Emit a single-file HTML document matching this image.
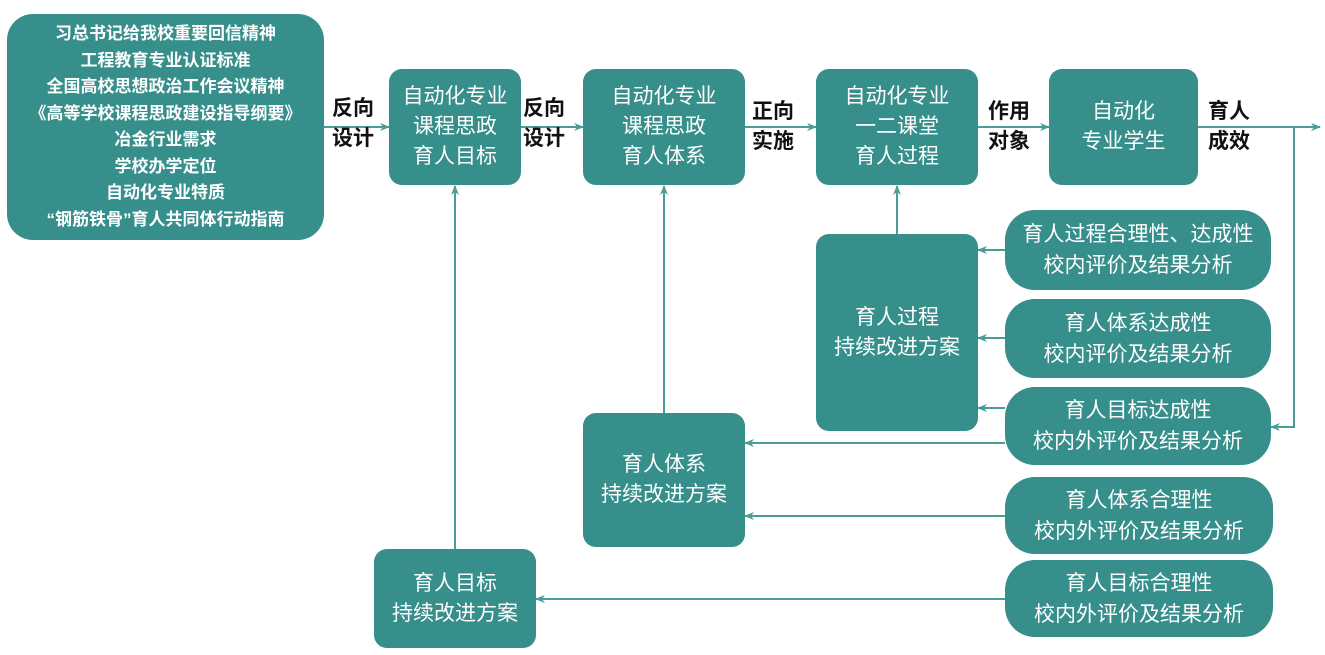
<!DOCTYPE html>
<html><head><meta charset="utf-8"><style>
body{margin:0;width:1325px;height:655px;background:#fff;position:relative;overflow:hidden;font-family:"Liberation Sans","Noto Sans CJK SC",sans-serif}
.b{position:absolute;background:#368f8b;color:#fff;display:flex;flex-direction:column;justify-content:center;align-items:center;text-align:center;font-size:21px;line-height:30px;border-radius:13px;white-space:nowrap}
.e{border-radius:30px;line-height:31px}
.l{position:absolute;font-size:21px;line-height:30px;font-weight:bold;color:#111}
svg{position:absolute;left:0;top:0}
</style></head><body>
<svg width="1325" height="655">
<defs><marker id="a" markerWidth="10" markerHeight="10" refX="9" refY="5" orient="auto" markerUnits="userSpaceOnUse"><path d="M0,1 L10,5 L0,9 L3,5z" fill="#4a9c98"/></marker></defs>
<g stroke="#4a9c98" stroke-width="2" fill="none" marker-end="url(#a)">
<line x1="324" y1="127" x2="389" y2="127"/>
<line x1="521" y1="127" x2="583" y2="127"/>
<line x1="745" y1="127" x2="816" y2="127"/>
<line x1="978" y1="127" x2="1049" y2="127"/>
<line x1="1198" y1="127" x2="1320" y2="127"/>
<polyline points="1294,127 1294,427 1271,427"/>
<line x1="897" y1="234" x2="897" y2="186"/>
<line x1="1005" y1="250" x2="978" y2="250"/>
<line x1="1005" y1="338" x2="978" y2="338"/>
<line x1="1005" y1="408" x2="978" y2="408"/>
<line x1="1005" y1="443" x2="745" y2="443"/>
<line x1="1005" y1="516" x2="745" y2="516"/>
<line x1="1005" y1="599" x2="536" y2="599"/>
<line x1="664" y1="413" x2="664" y2="186"/>
<line x1="455" y1="549" x2="455" y2="186"/>
</g></svg>
<div class="b" style="left:7px;top:14px;width:317px;height:226px;border-radius:26px;font-size:17px;line-height:26.5px;font-weight:bold">习总书记给我校重要回信精神<br>工程教育专业认证标准<br>全国高校思想政治工作会议精神<br>《高等学校课程思政建设指导纲要》<br>冶金行业需求<br>学校办学定位<br>自动化专业特质<br>“钢筋铁骨”育人共同体行动指南</div>
<div class="b" style="left:389px;top:69px;width:132px;height:116px">自动化专业<br>课程思政<br>育人目标</div>
<div class="b" style="left:583px;top:69px;width:162px;height:116px">自动化专业<br>课程思政<br>育人体系</div>
<div class="b" style="left:816px;top:69px;width:162px;height:116px">自动化专业<br>一二课堂<br>育人过程</div>
<div class="b" style="left:1049px;top:69px;width:149px;height:116px">自动化<br>专业学生</div>
<div class="b" style="left:816px;top:234px;width:162px;height:197px">育人过程<br>持续改进方案</div>
<div class="b" style="left:583px;top:413px;width:162px;height:134px">育人体系<br>持续改进方案</div>
<div class="b" style="left:374px;top:549px;width:162px;height:99px">育人目标<br>持续改进方案</div>
<div class="b e" style="left:1005px;top:210px;width:266px;height:80px">育人过程合理性、达成性<br>校内评价及结果分析</div>
<div class="b e" style="left:1005px;top:299px;width:266px;height:79px">育人体系达成性<br>校内评价及结果分析</div>
<div class="b e" style="left:1005px;top:387px;width:266px;height:78px">育人目标达成性<br>校内外评价及结果分析</div>
<div class="b e" style="left:1005px;top:477px;width:268px;height:77px">育人体系合理性<br>校内外评价及结果分析</div>
<div class="b e" style="left:1005px;top:560px;width:268px;height:77px">育人目标合理性<br>校内外评价及结果分析</div>
<div class="l" style="left:332px;top:94px">反向<br>设计</div>
<div class="l" style="left:523px;top:94px">反向<br>设计</div>
<div class="l" style="left:752px;top:97px">正向<br>实施</div>
<div class="l" style="left:988px;top:97px">作用<br>对象</div>
<div class="l" style="left:1208px;top:97px">育人<br>成效</div>
</body></html>
